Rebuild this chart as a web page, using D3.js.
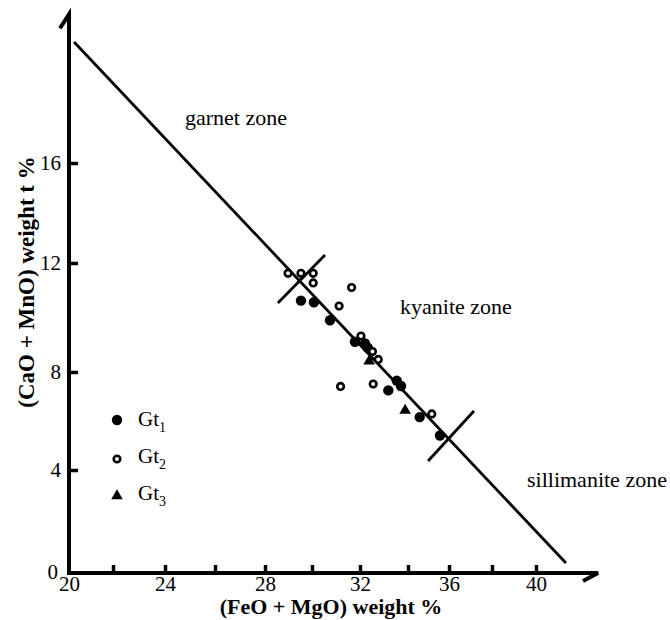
<!DOCTYPE html>
<html>
<head>
<meta charset="utf-8">
<script src="https://cdn.jsdelivr.net/npm/d3@7/dist/d3.min.js"></script>
<style>
body { margin: 0; background: #fff; }
svg text { font-family: "Liberation Serif", "DejaVu Serif", "Times New Roman", Times, serif !important; fill: #000; }
</style>
</head>
<body>
<div id="chart"></div>
<script>
// values: [FeO + MgO, CaO + MnO]
var gt1 = [[29.53, 10.62], [30.08, 10.56], [30.75, 9.90], [31.79, 9.11], [32.21, 9.05],
           [32.33, 8.88], [33.53, 7.65], [33.71, 7.43], [33.18, 7.25], [34.57, 6.16], [35.56, 5.41]]
var gt2 = [[28.98, 11.62], [29.53, 11.62], [30.05, 11.62], [30.05, 11.27], [31.65, 11.10],
           [31.13, 10.42], [32.04, 9.32], [32.52, 8.75], [32.76, 8.46], [31.19, 7.41],
           [32.55, 7.51], [35.16, 6.29]]
var gt3 = [[32.38, 8.40], [33.88, 6.43]]

var trend = [[20.23, 20.84], [41.36, 0.39]]
var zoneBreaks = [
    [[28.55, 10.53], [30.54, 12.32]],
    [[34.98, 4.37], [37.16, 6.41]]
]
var zoneNames = ["garnet zone", "kyanite zone", "sillimanite zone"]

var xTicks = [22, 24, 26, 28, 30, 32, 34, 36, 38, 40]
var xLabels = [20, 24, 28, 32, 36, 40]
var yTicks = [4, 8, 12, 16]
var seriesNames = ["Gt", "Gt", "Gt"]
var seriesSubs = ["1", "2", "3"]

var width = 670, height = 620
var serif = "'Liberation Serif', 'DejaVu Serif', 'Times New Roman', serif"

var svg = d3.select("#chart").append("svg")
    .attr("width", width)
    .attr("height", height)
    .attr("font-family", serif)

// the hand-drawn axes are slightly uneven, so the scales follow the printed ticks
var x = d3.scaleLinear()
    .domain([20, 22, 24, 26, 28, 30, 32, 34, 36, 38, 40])
    .range([69, 113, 165, 215, 265, 312, 360, 408, 449, 492, 536])
var y = d3.scaleLinear()
    .domain([0, 4, 8, 12, 16])
    .range([573, 470, 372, 263, 163])

// axis lines with half arrow heads
var x0 = x(20), y0 = y(0)
var yTop = y(21.95), xEnd = x(42.82)
svg.append("path")
    .attr("d", "M" + x0 + "," + y0 + "V" + yTop + "l-9,14")
    .attr("fill", "none").attr("stroke", "#000").attr("stroke-width", 4)
svg.append("path")
    .attr("d", "M" + (x0 - 2) + "," + y0 + "H" + xEnd + "l-15,8")
    .attr("fill", "none").attr("stroke", "#000").attr("stroke-width", 4)

// tick marks (pointing into the plot)
svg.append("g")
    .attr("transform", "translate(0," + y0 + ")")
    .call(d3.axisBottom(x).tickValues(xTicks).tickSize(-8).tickFormat(""))
svg.append("g")
    .attr("transform", "translate(" + x0 + ",0)")
    .call(d3.axisLeft(y).tickValues(yTicks).tickSize(-9).tickFormat(""))
svg.selectAll(".domain").remove()
svg.selectAll(".tick line").attr("stroke", "#000").attr("stroke-width", 3.5)

// tick labels
var xLab = svg.append("g")
    .attr("transform", "translate(0," + (y0 + 3) + ")")
    .call(d3.axisBottom(x).tickValues(xLabels).tickSize(0).tickPadding(0))
var yLab = svg.append("g")
    .attr("transform", "translate(" + (x0 - 8) + ",0)")
    .call(d3.axisLeft(y).tickValues(yTicks).tickSize(0).tickPadding(0))
xLab.select(".domain").remove()
yLab.select(".domain").remove()
xLab.attr("font-family", serif).attr("font-size", 21)
yLab.attr("font-family", serif).attr("font-size", 21)
svg.selectAll(".tick text").attr("fill", "#000")
xLab.selectAll(".tick text").attr("dy", "0.7em")
svg.append("text")
    .attr("x", x0 - 11).attr("y", y0 + 6)
    .attr("text-anchor", "end")
    .attr("font-size", 21)
    .text("0")

// axis titles
svg.append("text")
    .attr("x", 331).attr("y", 614)
    .attr("text-anchor", "middle")
    .attr("font-size", 22).attr("font-weight", "bold")
    .text("(FeO + MgO) weight %")
svg.append("text")
    .attr("transform", "translate(34,282) rotate(-90)")
    .attr("text-anchor", "middle")
    .attr("font-size", 23).attr("font-weight", "bold")
    .text("(CaO + MnO) weight t %")

// trend line and zone boundaries
var line = d3.line()
    .x(function(d) { return x(d[0]) })
    .y(function(d) { return y(d[1]) })
svg.append("path")
    .datum(trend)
    .attr("d", line)
    .attr("fill", "none").attr("stroke", "#000").attr("stroke-width", 2.8)
svg.selectAll(".break").data(zoneBreaks)
    .enter().append("path")
    .attr("class", "break")
    .attr("d", line)
    .attr("fill", "none").attr("stroke", "#000").attr("stroke-width", 2.8)

// zone labels
var zonePos = [[185, 125], [400, 314], [527, 487]]
svg.selectAll(".zone").data(zoneNames)
    .enter().append("text")
    .attr("class", "zone")
    .attr("x", function(d, i) { return zonePos[i][0] })
    .attr("y", function(d, i) { return zonePos[i][1] })
    .attr("font-size", 22)
    .text(function(d) { return d })

// points
var tri = d3.symbol().type(d3.symbolTriangle).size(58)
function drawFilled(sel) {
    sel.append("circle").attr("r", 5.2).attr("fill", "#000")
}
function drawOpen(sel) {
    sel.append("circle").attr("r", 3.3).attr("fill", "#fff")
        .attr("stroke", "#000").attr("stroke-width", 2.6)
}
function drawTri(sel) {
    sel.append("path").attr("d", tri).attr("fill", "#000")
}

svg.selectAll(".gt1").data(gt1).enter().append("g")
    .attr("class", "gt1")
    .attr("transform", function(d) { return "translate(" + x(d[0]) + "," + y(d[1]) + ")" })
    .call(drawFilled)
svg.selectAll(".gt2").data(gt2).enter().append("g")
    .attr("class", "gt2")
    .attr("transform", function(d) { return "translate(" + x(d[0]) + "," + y(d[1]) + ")" })
    .call(drawOpen)
svg.selectAll(".gt3").data(gt3).enter().append("g")
    .attr("class", "gt3")
    .attr("transform", function(d) { return "translate(" + x(d[0]) + "," + y(d[1]) + ")" })
    .call(drawTri)

// legend
var legend = svg.append("g").attr("transform", "translate(117,426)")
var drawers = [drawFilled, drawOpen, drawTri]
seriesNames.forEach(function(name, i) {
    var row = legend.append("g").attr("transform", "translate(0," + (i * 37) + ")")
    row.append("g").attr("transform", "translate(0," + (i == 0 ? -6 : -4) + ")").call(drawers[i])
    var t = row.append("text").attr("x", 21).attr("y", 0).attr("font-size", 21)
    t.append("tspan").text(name)
    t.append("tspan").attr("dy", 6).attr("font-size", 14).text(seriesSubs[i])
})
</script>
</body>
</html>
